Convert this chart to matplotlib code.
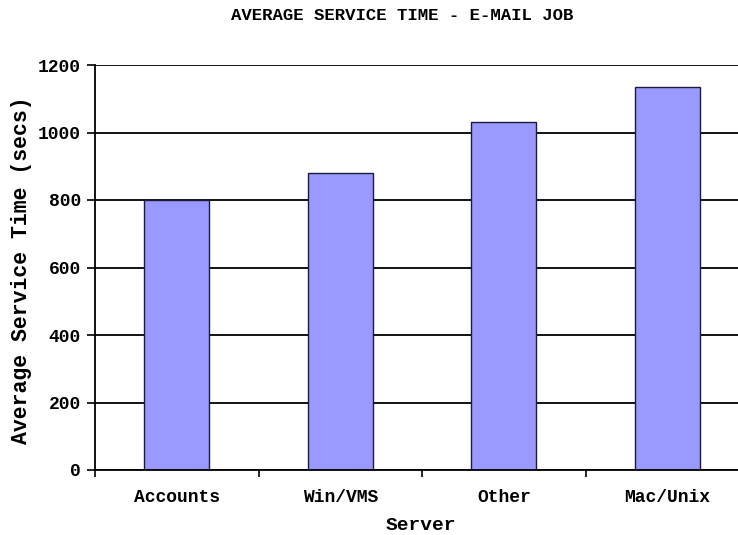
import numpy as np
import matplotlib.pyplot as plt
from matplotlib.ticker import FixedLocator

# average service time per server, e-mail job
servers = ['Accounts', 'Win/VMS', 'Other', 'Mac/Unix']
service_time = [800, 880, 1032, 1135]
yticks = [0, 200, 400, 600, 800, 1000, 1200]

plt.rcParams['font.family'] = ['Liberation Mono', 'DejaVu Sans Mono']
plt.rcParams['font.weight'] = 'bold'

fig = plt.figure(figsize=(7.38, 5.35), dpi=100)
ax = fig.add_axes([95/738, 65/535, 654/738, 405/535])

x = np.arange(len(servers))
ax.bar(x, service_time, width=0.4, color='#9999ff', edgecolor='#1a1a3a',
       linewidth=1.0, zorder=3)

ax.set_xlim(-0.5, len(servers) - 0.5)
ax.set_ylim(0, 1200)
ax.set_yticks(yticks)
ax.yaxis.grid(True, color='black', linewidth=1.3, zorder=1)

# category names at bar centres, tick marks at the boundaries
ax.set_xticks(x)
ax.set_xticklabels(servers, fontsize=13, fontweight='bold')
ax.tick_params(axis='x', which='major', length=0, pad=14)
ax.xaxis.set_minor_locator(FixedLocator(np.arange(-0.5, len(servers), 1.0)))
ax.tick_params(axis='x', which='minor', length=5, width=1.2, color='black')
ax.tick_params(axis='y', length=6, width=1.2, labelsize=13, pad=4)
for lab in ax.get_yticklabels():
    lab.set_fontweight('bold')

for side in ['top', 'right']:
    ax.spines[side].set_visible(False)
ax.spines['left'].set_linewidth(1.3)
ax.spines['bottom'].set_linewidth(1.3)
ax.spines['left'].set_zorder(4)
ax.spines['bottom'].set_zorder(4)

ax.set_xlabel('Server', fontsize=14, fontweight='bold')
ax.xaxis.set_label_coords((421 - 95) / 654, -(525 - 470) / 405)
ax.xaxis.label.set_va('center')
ax.set_ylabel('Average Service Time (secs)', fontsize=15.5, fontweight='bold')
ax.yaxis.set_label_coords(-(95 - 22) / 654, (470 - 270) / 405)
ax.yaxis.label.set_va('center')
fig.text(402/738, 1 - 15/535, 'AVERAGE SERVICE TIME - E-MAIL JOB',
         ha='center', va='center', fontsize=12.5, fontweight='bold')

fig.savefig('out.png', dpi=100)
